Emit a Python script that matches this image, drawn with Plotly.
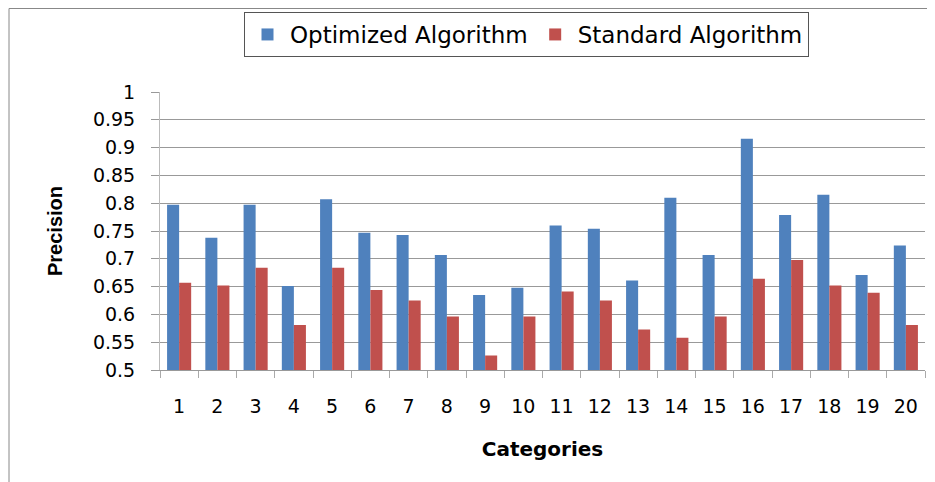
import plotly.graph_objects as go

categories = [str(i) for i in range(1, 21)]
optimized = [0.797, 0.738, 0.797, 0.651, 0.807, 0.747, 0.743, 0.707, 0.635, 0.648,
             0.760, 0.754, 0.661, 0.810, 0.707, 0.916, 0.779, 0.815, 0.671, 0.724]
standard = [0.657, 0.652, 0.684, 0.581, 0.684, 0.644, 0.625, 0.596, 0.526, 0.596,
            0.641, 0.625, 0.573, 0.558, 0.596, 0.664, 0.698, 0.652, 0.639, 0.581]
y_tick_vals = [0.5, 0.55, 0.6, 0.65, 0.7, 0.75, 0.8, 0.85, 0.9, 0.95, 1.0]
y_tick_text = ["0.5", "0.55", "0.6", "0.65", "0.7", "0.75", "0.8", "0.85", "0.9", "0.95", "1"]

wide = "DejaVu Sans, Verdana, sans-serif"
bold_narrow = "Liberation Sans, Arial, sans-serif"

# The page body has an 8px default margin; the figure is sized to fit the window.
W, H = 927, 474
L, T, R, B = 152, 84, 10, 112
PW, PH = W - L - R, H - T - B

fig = go.Figure()
fig.add_trace(go.Bar(x=categories, y=optimized, name="Optimized Algorithm",
                     marker=dict(color="#4F81BD", line=dict(width=0))))
fig.add_trace(go.Bar(x=categories, y=standard, name="Standard Algorithm",
                     marker=dict(color="#C0504D", line=dict(width=0))))

fig.update_layout(
    width=W, height=H,
    margin=dict(l=L, r=R, t=T, b=B, autoexpand=False),
    paper_bgcolor="white", plot_bgcolor="white",
    barmode="group", bargap=0.37, bargroupgap=0,
    showlegend=True,
    legend=dict(orientation="h", x=(236 - L) / PW, y=1 + (T - 4) / PH,
                xanchor="left", yanchor="top",
                bordercolor="#555555", borderwidth=1,
                font=dict(family=wide, size=23, color="black"),
                itemwidth=35, tracegroupgap=0),
    xaxis=dict(type="category", tickson="boundaries", ticks="outside", ticklen=7,
               tickcolor="#AAAAAA", showline=True, linecolor="#999999", linewidth=1,
               showgrid=False, ticklabelstandoff=19,
               tickfont=dict(family=wide, size=19, color="black"),
               title=dict(text="<b>Categories</b>",
                          font=dict(family=wide, size=20, color="black"),
                          standoff=26)),
    yaxis=dict(range=[0.5, 1.0], tickvals=y_tick_vals, ticktext=y_tick_text,
               ticks="outside", ticklen=8, tickcolor="#999999",
               showline=True, linecolor="#BBBBBB", linewidth=1,
               showgrid=True, gridcolor="#999999", gridwidth=1,
               zeroline=False, ticklabelstandoff=12,
               tickfont=dict(family=wide, size=19, color="black"),
               title=dict(text="<b>Precision</b>",
                          font=dict(family=bold_narrow, size=20, color="black"),
                          standoff=24)),
    shapes=[dict(type="rect", xref="paper", yref="paper",
                 x0=(1 - L) / PW, x1=(W + 10 - L) / PW,
                 y0=-(B + 20) / PH, y1=1 + (T - 0.5) / PH,
                 line=dict(color="#888888", width=1), fillcolor="rgba(0,0,0,0)",
                 layer="below")],
)

fig.write_html("out.html")
